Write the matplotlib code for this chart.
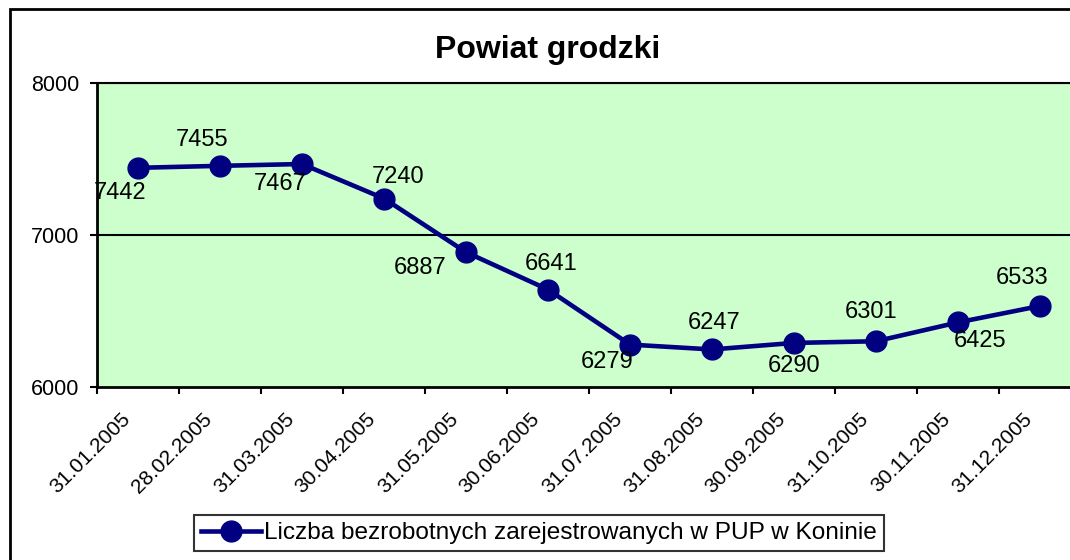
import numpy as np
import matplotlib
matplotlib.use('Agg')
from matplotlib import pyplot as plt
from matplotlib.patches import Rectangle
from matplotlib.transforms import ScaledTranslation

plt.rcParams['font.family'] = ['Liberation Sans', 'DejaVu Sans']

# data
dates = ['31.01.2005', '28.02.2005', '31.03.2005', '30.04.2005', '31.05.2005', '30.06.2005',
         '31.07.2005', '31.08.2005', '30.09.2005', '31.10.2005', '30.11.2005', '31.12.2005']
unemployed = [7442, 7455, 7467, 7240, 6887, 6641, 6279, 6247, 6290, 6301, 6425, 6533]
series_name = 'Liczba bezrobotnych zarejestrowanych w PUP w Koninie'
y_ticks = [6000, 7000, 8000]

# label offsets in pixels (dx, dy)
label_offsets = [(-18, -25), (-18, 26), (-22, -20), (14, 22), (-46, -16), (3, 26),
                 (-23, -17), (2, 26), (0, -23), (-5, 29), (22, -19), (-18, 28)]

navy = '#000080'

fig = plt.figure(figsize=(10.7, 5.6), dpi=100)
ax = fig.add_axes([97 / 1070, 1 - 387 / 560, 984 / 1070, 304 / 560])
ax.set_facecolor('#CCFFCC')

x = np.arange(len(dates)) + 0.5
ax.plot(x, unemployed, color=navy, lw=3.3, marker='o', ms=15, mfc=navy, mec=navy,
        label=series_name, clip_on=False, zorder=3)

for xi, yi, (dx, dy) in zip(x, unemployed, label_offsets):
    ax.annotate(str(yi), (xi, yi), xytext=(dx, dy), textcoords='offset pixels',
                ha='center', va='center', fontsize=17, zorder=4)

ax.set_xlim(0, len(dates))
ax.set_ylim(y_ticks[0], y_ticks[-1])
ax.set_yticks(y_ticks)
ax.set_yticklabels([str(v) for v in y_ticks], fontsize=15.5)
for v in y_ticks[1:]:
    ax.axhline(v, color='black', lw=1.5, zorder=1)

ax.set_xticks(np.arange(len(dates) + 1), minor=True)
ax.set_xticks(x)
ax.set_xticklabels(dates, rotation=45, ha='right', va='center', rotation_mode='anchor', fontsize=15)
ax.tick_params(axis='x', which='major', length=0, pad=21)
ax.tick_params(axis='x', which='minor', length=5, width=1.5, direction='out')
ax.tick_params(axis='y', length=5, width=1.5, direction='out', pad=8)
shift = ScaledTranslation(-11 / 100, 0, fig.dpi_scale_trans)
for lbl in ax.get_xticklabels():
    lbl.set_transform(lbl.get_transform() + shift)

for s in ['left', 'bottom']:
    ax.spines[s].set_linewidth(2)
for s in ['top', 'right']:
    ax.spines[s].set_linewidth(1.5)

fig.text(548 / 1070, 1 - 50 / 560, 'Powiat grodzki', ha='center', va='center',
         fontsize=23, fontweight='bold')

leg = fig.legend(loc='center', bbox_to_anchor=(539 / 1070, 1 - 533 / 560), fontsize=17.6,
                 frameon=True, fancybox=False, edgecolor='black', handlelength=2.45,
                 borderpad=0.3, handletextpad=0.1, borderaxespad=0)
leg.get_frame().set_linewidth(1.5)

fig.patches.append(Rectangle((10 / 1070, -0.2), 1.2, 1 - 9 / 560 + 0.2, transform=fig.transFigure,
                             fill=False, edgecolor='black', lw=2))

fig.savefig('out.png', dpi=100)
